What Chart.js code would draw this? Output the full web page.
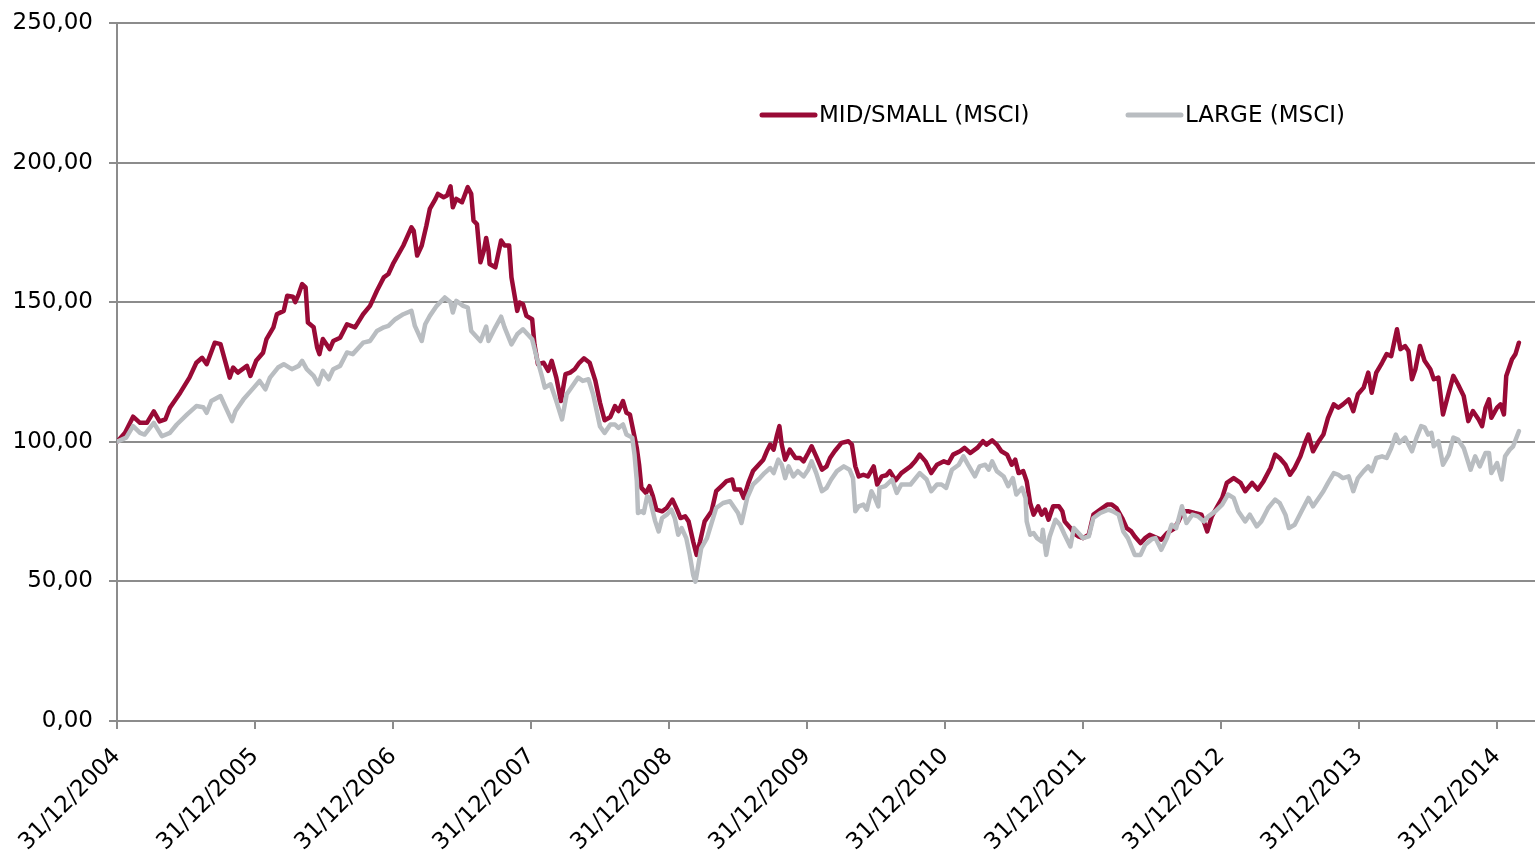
<!DOCTYPE html>
<html>
<head>
<meta charset="utf-8">
<script src="https://cdn.jsdelivr.net/npm/chart.js@4/dist/chart.umd.min.js"></script>
<style>
	html, body { margin: 0; padding: 0; background: #fff; }
	#wrap { width: 1535px; height: 852px; }
</style>
</head>
<body>
<div id="wrap"><canvas id="msci-chart"></canvas></div>
<script>
// x values are months since 31/12/2004
var xTickMonths = [0, 12, 24, 36, 48, 60, 72, 84, 96, 108, 120];
var xTickLabels = ['31/12/2004', '31/12/2005', '31/12/2006', '31/12/2007', '31/12/2008', '31/12/2009',
	'31/12/2010', '31/12/2011', '31/12/2012', '31/12/2013', '31/12/2014'];
var yTicks = [0, 50, 100, 150, 200, 250];
var seriesLabels = ['MID/SMALL (MSCI)', 'LARGE (MSCI)'];

var midSmallMonths = [0.0, 0.7, 1.4, 2.0, 2.6, 3.2, 3.7, 4.2, 4.6, 5.5, 6.3, 6.9, 7.4, 7.8, 8.5, 9.0, 9.4, 9.8, 10.1, 10.5,
	11.3, 11.6, 12.1, 12.7, 13.0, 13.6, 13.9, 14.5, 14.8, 15.3, 15.5, 15.8, 16.1, 16.4, 16.6, 17.1, 17.4, 17.6, 17.9, 18.5,
	18.8, 19.4, 20.0, 20.7, 21.4, 22.0, 22.6, 23.2, 23.6, 24.0, 24.9, 25.6, 25.8, 26.1, 26.5, 26.9, 27.2, 27.7, 27.9, 28.4,
	28.7, 29.0, 29.2, 29.5, 30.0, 30.5, 30.8, 31.0, 31.3, 31.6, 31.9, 32.1, 32.3, 32.4, 32.9, 33.4, 33.7, 34.1, 34.3, 34.8,
	35.0, 35.3, 35.6, 36.1, 36.3, 36.6, 37.1, 37.5, 37.8, 38.2, 38.6, 39.0, 39.4, 39.8, 40.2, 40.6, 41.1, 41.6, 42.0, 42.4,
	42.9, 43.3, 43.6, 44.0, 44.3, 44.6, 44.9, 45.2, 45.4, 45.6, 46.0, 46.3, 46.6, 46.9, 47.4, 47.8, 48.3, 48.7, 49.0, 49.4,
	49.7, 50.1, 50.4, 50.7, 51.1, 51.7, 52.1, 52.7, 53.0, 53.5, 53.7, 54.2, 54.5, 54.9, 55.3, 55.8, 56.2, 56.5, 56.8, 57.1,
	57.4, 57.6, 57.8, 58.1, 58.5, 59.0, 59.4, 59.7, 60.1, 60.4, 60.8, 61.3, 61.7, 62.0, 62.4, 63.0, 63.6, 63.9, 64.2, 64.5,
	64.9, 65.3, 65.8, 66.1, 66.5, 66.9, 67.2, 67.7, 68.2, 69.0, 69.4, 69.8, 70.3, 70.8, 71.3, 71.9, 72.3, 72.7, 73.3, 73.7,
	74.2, 74.8, 75.3, 75.6, 76.1, 76.5, 76.9, 77.4, 77.8, 78.1, 78.4, 78.8, 79.1, 79.4, 79.7, 80.1, 80.4, 80.7, 81.0, 81.4,
	81.9, 82.2, 82.4, 82.9, 83.2, 83.6, 84.0, 84.5, 84.9, 85.5, 86.1, 86.5, 86.9, 87.4, 87.8, 88.2, 88.5, 89.0, 89.4, 89.8,
	90.3, 90.8, 91.3, 91.9, 92.3, 92.7, 93.2, 93.7, 94.3, 94.8, 95.2, 95.6, 96.1, 96.5, 97.1, 97.7, 98.1, 98.7, 99.2, 99.7,
	100.3, 100.7, 101.1, 101.6, 102.0, 102.4, 102.9, 103.3, 103.6, 104.0, 104.5, 104.9, 105.3, 105.8, 106.2, 106.6, 107.1, 107.5, 107.9, 108.4,
	108.8, 109.1, 109.5, 110.0, 110.4, 110.8, 111.3, 111.6, 112.0, 112.3, 112.6, 112.9, 113.3, 113.7, 114.2, 114.5, 114.9, 115.3, 115.8, 116.2,
	116.6, 117.1, 117.5, 117.9, 118.4, 118.7, 119.0, 119.3, 119.5, 120.0, 120.3, 120.6, 120.8, 121.3, 121.6, 121.9];
var midSmallValues = [100, 103.2, 109, 106.8, 106.8, 110.9, 107.3, 108, 112.2, 117.6, 123, 128.3, 130.1, 127.8, 135.5, 135, 129, 123, 126.6, 124.8,
	127.2, 123.6, 129, 131.9, 136.8, 141, 145.7, 146.9, 152.3, 152, 150, 152.9, 156.5, 155.3, 142.7, 141, 133.8, 131.4, 136.8, 133.2,
	136.1, 137.3, 142.1, 141, 145.7, 148.7, 154.1, 158.9, 160.1, 163.7, 170.3, 176.8, 175.6, 166.7, 170.3, 177.4, 183.4, 187, 188.8, 187.6,
	188.2, 191.5, 184, 187, 185.8, 191.2, 188.8, 179.2, 178, 164.3, 168.5, 173, 168.5, 163.7, 162.5, 172.1, 170.3, 170.3, 158.9, 146.9,
	149.9, 149.3, 145.1, 143.9, 134.9, 127.8, 128.3, 125.4, 129, 123, 114.6, 124.2, 124.8, 126, 128.3, 129.9, 128.3, 121.8, 114, 107.7,
	108.9, 112.8, 111, 114.6, 110.4, 109.8, 103.8, 97.8, 91.8, 83.5, 81.7, 84.1, 80.5, 75.7, 75.1, 76.3, 79.3, 75.7, 72.7, 73.3,
	71.5, 64.3, 59.5, 64.3, 71.5, 75.1, 82.3, 84.7, 85.9, 86.5, 82.9, 82.9, 79.9, 85.3, 89.5, 91.8, 93.6, 96.6, 99, 97.2,
	102.6, 105.6, 99, 93.6, 97.2, 94.2, 94.2, 93, 96, 98.4, 94.8, 90, 91.2, 94.2, 96.6, 99.6, 100.2, 99, 91.2, 87.6,
	88.2, 87.6, 91.2, 84.7, 87.6, 88, 89.5, 86.2, 88.8, 91.2, 93, 95.4, 93, 88.8, 91.8, 93, 92.4, 95.4, 96.6, 97.8,
	96, 97.8, 100.2, 99, 100.5, 99, 96.6, 95.4, 91.8, 93.6, 88.8, 89.5, 85.9, 78.1, 73.9, 76.9, 73.9, 75.7, 72.1, 76.9,
	76.9, 75.1, 71.5, 69.1, 67.3, 66.1, 65.5, 66.7, 73.9, 75.7, 77.5, 77.5, 76.3, 72.7, 69.1, 67.9, 66.1, 63.7, 65.5, 66.7,
	65.8, 64.9, 67.3, 68.8, 71.5, 75.1, 75.1, 74.5, 73.9, 67.9, 73.3, 76.3, 79.9, 85.3, 87, 85.3, 82.3, 85.3, 82.9, 85.9,
	90.6, 95.4, 94.2, 91.8, 88.2, 90.6, 94.8, 99.6, 102.6, 96.6, 100.2, 102.6, 108.6, 113.4, 112.2, 113.4, 115.2, 111, 117, 119.4,
	124.8, 117.6, 124.8, 128.3, 131.4, 130.7, 140.3, 133.2, 134.3, 132.5, 122.4, 126, 134.3, 129, 126, 122.4, 123, 109.8, 117.6, 123.6,
	120.6, 116.4, 107.4, 111, 108, 105.6, 112.2, 115.2, 108.6, 112.2, 113.4, 109.8, 123.6, 129.6, 131.4, 135.5];

var largeMonths = [0.0, 0.8, 1.4, 2.0, 2.4, 3.2, 3.9, 4.6, 5.2, 6.1, 6.9, 7.5, 7.8, 8.2, 9.0, 9.4, 10.0, 10.3, 11.0, 11.9,
	12.4, 12.9, 13.3, 14.0, 14.5, 15.2, 15.8, 16.1, 16.5, 17.1, 17.5, 17.9, 18.4, 18.8, 19.4, 20.0, 20.5, 21.4, 22.0, 22.6,
	23.2, 23.6, 24.2, 24.9, 25.6, 25.9, 26.5, 26.8, 27.2, 27.8, 28.5, 29.0, 29.2, 29.5, 30.1, 30.5, 30.8, 31.6, 32.1, 32.3,
	32.9, 33.4, 33.7, 34.3, 34.8, 35.3, 36.1, 36.5, 36.9, 37.2, 37.7, 38.2, 38.7, 39.1, 39.7, 40.1, 40.5, 41.0, 41.4, 42.0,
	42.4, 42.9, 43.3, 43.6, 44.0, 44.3, 44.8, 45.0, 45.2, 45.3, 45.6, 45.8, 46.1, 46.3, 46.8, 47.1, 47.4, 47.8, 48.2, 48.5,
	48.8, 49.1, 49.5, 49.8, 50.1, 50.3, 50.5, 50.8, 51.3, 51.7, 52.1, 52.7, 53.3, 53.7, 54.0, 54.3, 54.8, 55.3, 55.9, 56.3,
	56.8, 57.1, 57.5, 57.8, 58.1, 58.4, 58.8, 59.2, 59.7, 60.1, 60.4, 60.8, 61.3, 61.7, 62.1, 62.6, 63.2, 63.7, 64.0, 64.2,
	64.5, 64.9, 65.2, 65.6, 65.9, 66.2, 66.3, 66.8, 67.4, 67.8, 68.2, 69.0, 69.8, 70.4, 70.8, 71.3, 71.7, 72.1, 72.6, 73.2,
	73.6, 74.0, 74.6, 75.0, 75.5, 75.8, 76.1, 76.5, 77.1, 77.5, 77.9, 78.2, 78.7, 79.0, 79.1, 79.4, 79.7, 80.0, 80.4, 80.5,
	80.8, 81.1, 81.6, 82.0, 82.4, 82.9, 83.2, 83.6, 84.0, 84.5, 84.9, 85.5, 86.2, 86.6, 87.1, 87.5, 87.9, 88.5, 89.0, 89.4,
	90.0, 90.3, 90.8, 91.3, 91.7, 92.1, 92.6, 93.0, 93.5, 94.0, 94.5, 94.9, 95.5, 96.1, 96.6, 97.1, 97.5, 98.1, 98.5, 99.1,
	99.5, 100.1, 100.7, 101.1, 101.6, 101.9, 102.4, 103.0, 103.6, 104.0, 104.5, 104.9, 105.3, 105.8, 106.2, 106.6, 107.1, 107.5, 107.9, 108.4,
	108.8, 109.1, 109.5, 110.0, 110.4, 110.8, 111.2, 111.5, 112.0, 112.3, 112.6, 113.0, 113.4, 113.7, 114.0, 114.3, 114.5, 114.9, 115.3, 115.8,
	116.2, 116.6, 117.1, 117.7, 118.1, 118.5, 119.0, 119.3, 119.5, 120.0, 120.4, 120.7, 121.1, 121.4, 121.9];
var largeValues = [100, 101.5, 105.6, 103.2, 102.6, 106.8, 102, 103.2, 106.2, 109.8, 112.8, 112.4, 110.4, 114.6, 116.4, 112.8, 107.4, 111, 115.2, 119.4,
	121.8, 118.8, 123, 126.6, 127.8, 126, 127.2, 129, 126, 123.6, 120.6, 125.4, 122.4, 126, 127.2, 132, 131.4, 135.5, 136.1, 139.7,
	141, 141.5, 143.9, 145.7, 146.9, 141.5, 136.1, 142.1, 145.1, 148.7, 151.7, 150, 146.3, 150.5, 148.7, 148.1, 139.7, 136.1, 141.3, 136.1,
	141, 144.8, 141, 134.9, 138.5, 140.3, 136.7, 130.1, 124.2, 119.4, 120.6, 114.6, 108, 117, 120.6, 123, 121.8, 122.4, 117, 105.5,
	103.2, 106.2, 106.2, 105, 106.2, 102.6, 101.5, 95.4, 85.9, 74.5, 75.1, 74.5, 80.5, 79.9, 71.5, 67.9, 72.7, 73.9, 75.7, 72.7,
	66.7, 69.1, 65.5, 59.5, 52.3, 49.9, 54.7, 61.9, 65.5, 70.9, 76.3, 78.1, 78.7, 76.3, 74.5, 70.9, 79.9, 84.7, 87, 88.8,
	90.6, 88.8, 93.6, 91.8, 87, 91.2, 87.6, 89.5, 87.6, 90, 93, 88.8, 82.3, 83.5, 86.5, 89.5, 91.2, 90, 87, 75.1,
	76.9, 77.5, 75.7, 82.3, 79.9, 76.9, 83.5, 84.1, 86.5, 81.7, 84.7, 84.7, 88.8, 86.5, 82.3, 84.7, 84.7, 83.5, 90, 91.8,
	94.8, 91.8, 87.6, 91.2, 91.8, 90, 93, 89.5, 87.6, 84.1, 87, 81.1, 83.5, 79.9, 71.5, 66.7, 67.3, 65.5, 64.3, 68.5,
	59.5, 66.1, 72.1, 70.3, 66.7, 62.5, 69.1, 67.3, 65.5, 66.1, 72.7, 74.5, 75.7, 75.1, 73.9, 67.9, 65.5, 59.5, 59.5, 63.1,
	65.2, 65.5, 61.3, 65.5, 70.3, 69.1, 76.9, 70.9, 73.9, 73.3, 71.5, 73.3, 75.1, 77.5, 81.1, 79.9, 75.1, 71.5, 73.9, 69.7,
	71.5, 76.3, 79.3, 78.1, 73.9, 69.1, 70.3, 75.1, 79.9, 76.9, 79.9, 82.3, 85.3, 88.8, 88.2, 87, 87.6, 82.3, 87, 89.5,
	91.2, 89.5, 94.2, 94.8, 94.2, 97.8, 102.6, 99.6, 101.5, 99, 96.6, 101.5, 105.6, 105.2, 102.6, 103.2, 98.4, 100.2, 91.8, 95.4,
	101.5, 100.8, 97.8, 90, 94.8, 91.2, 96, 96, 88.8, 92.4, 86.5, 94.8, 97.2, 98.4, 103.8];

function toPoints(xs, ys) {
	return xs.map(function(x, i) { return { x: x, y: ys[i] }; });
}

var axisGray = '#8c8c8c';
var fontSpec = { family: '"DejaVu Sans", sans-serif', size: 23 };

// legend drawn inside the plot area, like the original
var insideLegend = {
	id: 'insideLegend',
	afterDraw: function(chart) {
		var ctx = chart.ctx;
		var area = chart.chartArea;
		var starts = [645, 1011];
		var y = area.top + 92;
		ctx.save();
		ctx.font = '23px "DejaVu Sans", sans-serif';
		ctx.textBaseline = 'middle';
		ctx.textAlign = 'left';
		chart.data.datasets.forEach(function(ds, i) {
			var x0 = area.left + starts[i];
			ctx.strokeStyle = ds.borderColor;
			ctx.lineWidth = 5;
			ctx.lineCap = 'round';
			ctx.beginPath();
			ctx.moveTo(x0, y);
			ctx.lineTo(x0 + 53, y);
			ctx.stroke();
			ctx.fillStyle = '#000';
			ctx.fillText(ds.label, x0 + 57, y + 1);
		});
		ctx.restore();
	}
};

var ctx = document.getElementById('msci-chart').getContext('2d');
var msciChart = new Chart(ctx, {
	type: 'line',
	data: {
		datasets: [{
			label: seriesLabels[0],
			data: toPoints(midSmallMonths, midSmallValues),
			borderColor: '#990a36',
			borderWidth: 4.5,
			pointRadius: 0,
			tension: 0,
			borderJoinStyle: 'round',
			borderCapStyle: 'round',
			order: 2
		}, {
			label: seriesLabels[1],
			data: toPoints(largeMonths, largeValues),
			borderColor: '#b9bdc1',
			borderWidth: 4.5,
			pointRadius: 0,
			tension: 0,
			borderJoinStyle: 'round',
			borderCapStyle: 'round',
			order: 1
		}]
	},
	options: {
		responsive: true,
		maintainAspectRatio: false,
		animation: false,
		layout: { autoPadding: false, padding: { top: 23, right: 0, left: 0, bottom: 0 } },
		plugins: {
			legend: { display: false },
			tooltip: { enabled: false }
		},
		scales: {
			x: {
				type: 'linear',
				min: 0,
				max: 123.3,
				afterBuildTicks: function(scale) {
					scale.ticks = xTickMonths.map(function(v) { return { value: v }; });
				},
				afterFit: function(scale) {
					scale.height = 131;
					scale.paddingLeft = 0;
					scale.paddingRight = 0;
				},
				grid: {
					display: true,
					drawOnChartArea: false,
					drawTicks: true,
					tickLength: 8,
					color: axisGray,
					lineWidth: 2
				},
				border: { display: true, color: axisGray, width: 2 },
				ticks: {
					autoSkip: false,
					maxRotation: 45,
					minRotation: 45,
					padding: 14,
					color: '#000',
					font: fontSpec,
					callback: function(value) {
						var i = xTickMonths.indexOf(value);
						return i >= 0 ? xTickLabels[i] : '';
					}
				}
			},
			y: {
				min: 0,
				max: 250,
				afterBuildTicks: function(scale) {
					scale.ticks = yTicks.map(function(v) { return { value: v }; });
				},
				afterFit: function(scale) {
					scale.width = 117;
					scale.paddingTop = 0;
					scale.paddingBottom = 0;
				},
				grid: {
					display: true,
					drawTicks: true,
					tickLength: 8,
					color: axisGray,
					lineWidth: 2
				},
				border: { display: true, color: axisGray, width: 2 },
				ticks: {
					padding: 16,
					color: '#000',
					font: fontSpec,
					callback: function(value) {
						return value.toFixed(2).replace('.', ',');
					}
				}
			}
		}
	},
	plugins: [insideLegend]
});
</script>
</body>
</html>
